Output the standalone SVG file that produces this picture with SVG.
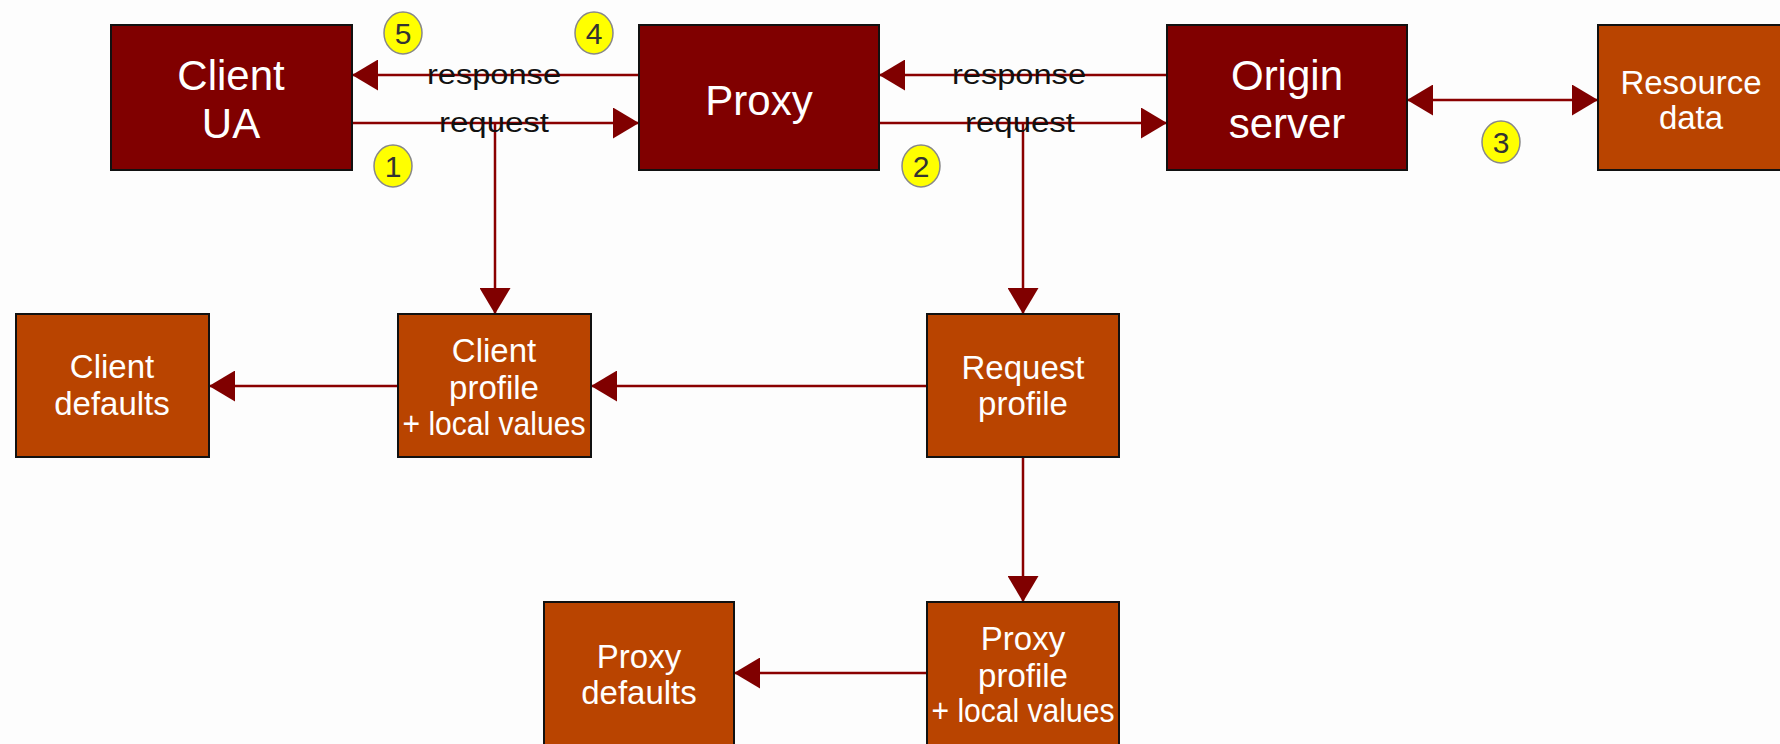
<svg xmlns="http://www.w3.org/2000/svg" width="1780" height="744" viewBox="0 0 1780 744">
<style>
.dark{fill:#800000;stroke:#111;stroke-width:2}
.orange{fill:#b94400;stroke:#111;stroke-width:2}
.t1{font-family:"Liberation Sans",Arial,sans-serif;font-size:42px;fill:#fff;text-anchor:middle}
.t2{font-family:"Liberation Sans",Arial,sans-serif;font-size:33px;fill:#fff;text-anchor:middle}
.lbl{font-family:"Liberation Sans",Arial,sans-serif;font-size:27px;fill:#111;text-anchor:middle}
.num{font-family:"Liberation Sans",Arial,sans-serif;font-size:30px;fill:#333;text-anchor:middle}
.badge{fill:#ffff00;stroke:#888;stroke-width:1.5}
.conn{stroke:#8a0000;stroke-width:2.5;fill:none;marker-end:url(#ah)}
</style>
<defs>
<marker id="ah" markerUnits="userSpaceOnUse" markerWidth="27" markerHeight="31" viewBox="0 0 27 31" refX="26" refY="15.5" orient="auto-start-reverse">
<path d="M0,0 L26,15.5 L0,31 z" fill="#800000"/>
</marker>
</defs>
<rect width="1780" height="744" fill="#fdfdfd"/>
<g id="connectors">
<line class="conn" x1="639" y1="75" x2="352" y2="75"/>
<line class="conn" x1="352" y1="123" x2="639" y2="123"/>
<line class="conn" x1="1167" y1="75" x2="879" y2="75"/>
<line class="conn" x1="879" y1="123" x2="1167" y2="123"/>
<line class="conn" x1="1407" y1="100" x2="1598" y2="100" style="marker-start:url(#ah)"/>
<line class="conn" x1="495" y1="123" x2="495" y2="314"/>
<line class="conn" x1="1023" y1="123" x2="1023" y2="314"/>
<line class="conn" x1="927" y1="386" x2="591" y2="386"/>
<line class="conn" x1="398" y1="386" x2="209" y2="386"/>
<line class="conn" x1="1023" y1="457" x2="1023" y2="602"/>
<line class="conn" x1="927" y1="673" x2="734" y2="673"/>
<text class="lbl" x="494" y="84" textLength="134" lengthAdjust="spacingAndGlyphs">response</text>
<text class="lbl" x="494" y="132" textLength="110" lengthAdjust="spacingAndGlyphs">request</text>
<text class="lbl" x="1019" y="84" textLength="134" lengthAdjust="spacingAndGlyphs">response</text>
<text class="lbl" x="1020" y="132" textLength="110" lengthAdjust="spacingAndGlyphs">request</text>
</g>
<g id="client-ua">
<rect class="dark" x="111" y="25" width="241" height="145"/>
<text class="t1" x="231" y="90">Client</text>
<text class="t1" x="231" y="138">UA</text>
</g>
<g id="proxy">
<rect class="dark" x="639" y="25" width="240" height="145"/>
<text class="t1" x="759" y="115">Proxy</text>
</g>
<g id="origin-server">
<rect class="dark" x="1167" y="25" width="240" height="145"/>
<text class="t1" x="1287" y="90">Origin</text>
<text class="t1" x="1287" y="138">server</text>
</g>
<g id="resource-data">
<rect class="orange" x="1598" y="25" width="200" height="145"/>
<text class="t2" x="1691" y="94">Resource</text>
<text class="t2" x="1691" y="129">data</text>
</g>
<g id="client-defaults">
<rect class="orange" x="16" y="314" width="193" height="143"/>
<text class="t2" x="112" y="378">Client</text>
<text class="t2" x="112" y="415">defaults</text>
</g>
<g id="client-profile">
<rect class="orange" x="398" y="314" width="193" height="143"/>
<text class="t2" x="494" y="362">Client</text>
<text class="t2" x="494" y="399">profile</text>
<text class="t2" x="494" y="435" textLength="183" lengthAdjust="spacingAndGlyphs">+ local values</text>
</g>
<g id="request-profile">
<rect class="orange" x="927" y="314" width="192" height="143"/>
<text class="t2" x="1023" y="379">Request</text>
<text class="t2" x="1023" y="415">profile</text>
</g>
<g id="proxy-defaults">
<rect class="orange" x="544" y="602" width="190" height="150"/>
<text class="t2" x="639" y="668">Proxy</text>
<text class="t2" x="639" y="704">defaults</text>
</g>
<g id="proxy-profile">
<rect class="orange" x="927" y="602" width="192" height="150"/>
<text class="t2" x="1023" y="650">Proxy</text>
<text class="t2" x="1023" y="687">profile</text>
<text class="t2" x="1023" y="722" textLength="183" lengthAdjust="spacingAndGlyphs">+ local values</text>
</g>
<g id="badge-5"><ellipse class="badge" cx="403" cy="33" rx="19" ry="21"/><text class="num" x="403" y="44">5</text></g>
<g id="badge-4"><ellipse class="badge" cx="594" cy="33" rx="19" ry="21"/><text class="num" x="594" y="44">4</text></g>
<g id="badge-1"><ellipse class="badge" cx="393" cy="166" rx="19" ry="21"/><text class="num" x="393" y="177">1</text></g>
<g id="badge-2"><ellipse class="badge" cx="921" cy="166" rx="19" ry="21"/><text class="num" x="921" y="177">2</text></g>
<g id="badge-3"><ellipse class="badge" cx="1501" cy="142" rx="19" ry="21"/><text class="num" x="1501" y="153">3</text></g>
</svg>
